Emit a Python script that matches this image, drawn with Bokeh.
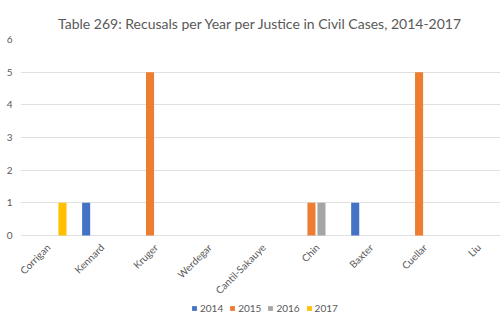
import math
from bokeh.plotting import figure
from bokeh.models import ColumnDataSource, FixedTicker, Legend, LegendItem, Range1d
from bokeh.core.properties import value
from bokeh.embed import file_html
from bokeh.resources import INLINE

justices = ["Corrigan", "Kennard", "Kruger", "Werdegar", "Cantil-Sakauye",
            "Chin", "Baxter", "Cuellar", "Liu"]
years = ["2014", "2015", "2016", "2017"]
v2014 = [0, 1, 0, 0, 0, 0, 1, 0, 0]
v2015 = [0, 0, 5, 0, 0, 1, 0, 5, 0]
v2016 = [0, 0, 0, 0, 0, 1, 0, 0, 0]
v2017 = [1, 0, 0, 0, 0, 0, 0, 0, 0]
series = [v2014, v2015, v2016, v2017]
colors = ["#4472C4", "#ED7D31", "#A5A5A5", "#FFC000"]
offsets = [-0.28, -0.093, 0.093, 0.28]
y_ticks = [0, 1, 2, 3, 4, 5, 6]

FONT = "Lato"
GRAY = "#595959"

# frame extends below the value axis so the category labels and legend sit inside it
p = figure(frame_width=480, frame_height=291, output_backend="svg", toolbar_location=None,
           x_range=Range1d(-0.5, 8.42), y_range=Range1d(-2.908, 6),
           x_axis_location=None,
           min_border_left=20, min_border_right=0, min_border_top=39,
           min_border_bottom=0, outline_line_color=None)

p.title.text = "Table 269: Recusals per Year per Justice in Civil Cases, 2014-2017"
p.title.align = "center"
p.title.text_font = FONT
p.title.text_font_size = "14px"
p.title.text_font_style = "normal"
p.title.text_color = GRAY
p.title.standoff = 16

items = []
for yr, vals, col, off in zip(years, series, colors, offsets):
    src = ColumnDataSource(dict(x=[i + off for i in range(len(justices))], top=vals))
    r = p.vbar(x="x", top="top", width=0.15, bottom=0, source=src,
               fill_color=col, line_color=None)
    items.append(LegendItem(label=yr, renderers=[r]))

# category labels, rotated 45 degrees, ending at each category
lab_src = ColumnDataSource(dict(x=list(range(len(justices))), y=[0] * len(justices),
                                text=justices))
p.text(x="x", y="y", text="text", source=lab_src, angle=math.pi / 4,
       text_align="right", text_baseline="middle", x_offset=1, y_offset=10,
       text_font=value(FONT), text_font_size="10px", text_color=GRAY)

p.yaxis.ticker = FixedTicker(ticks=y_ticks)
p.yaxis.major_label_text_font = FONT
p.yaxis.major_label_text_font_size = "10px"
p.yaxis.major_label_text_color = GRAY
p.yaxis.major_tick_line_color = None
p.yaxis.minor_tick_line_color = None
p.yaxis.major_tick_out = 0
p.yaxis.major_tick_in = 0
p.yaxis.axis_line_color = None
p.yaxis.major_label_standoff = 8

p.xgrid.grid_line_color = None
p.ygrid.grid_line_color = "#E0E0E0"
p.ygrid.ticker = FixedTicker(ticks=y_ticks)

legend = Legend(items=items, orientation="horizontal", location=(171, 16),
                label_text_font=FONT, label_text_font_size="10px",
                label_text_color=GRAY, glyph_width=6, glyph_height=6,
                label_standoff=3, spacing=6, padding=0, margin=0,
                label_height=12, border_line_color=None, background_fill_alpha=0)
p.add_layout(legend, "center")

open("out.html", "w").write(file_html(p, INLINE))
